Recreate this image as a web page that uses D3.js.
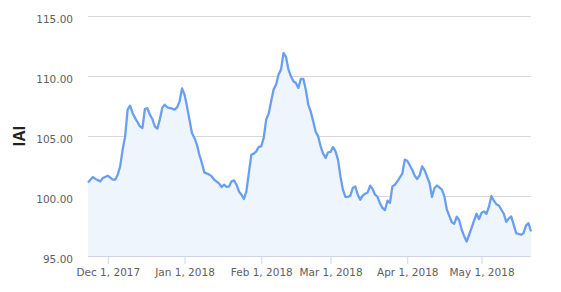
<!DOCTYPE html>
<html>
<head>
<meta charset="utf-8">
<script src="https://cdn.jsdelivr.net/npm/d3@7"></script>
<style>
  body { margin: 0; background: #fff; }
  svg { display: block; font-family: "DejaVu Sans", sans-serif; }
</style>
</head>
<body>
<svg id="chart" width="561" height="292"></svg>
<script>
const dates = [
  "2017-11-23","2017-11-25","2017-11-26","2017-11-28","2017-11-29",
  "2017-12-01","2017-12-03","2017-12-04","2017-12-05","2017-12-06","2017-12-07","2017-12-08","2017-12-09","2017-12-10",
  "2017-12-11","2017-12-12","2017-12-14","2017-12-15","2017-12-16","2017-12-17","2017-12-18","2017-12-19","2017-12-20",
  "2017-12-21","2017-12-22","2017-12-23","2017-12-24","2017-12-25","2017-12-27","2017-12-28","2017-12-29","2017-12-30","2017-12-31",
  "2018-01-01","2018-01-02","2018-01-03","2018-01-04","2018-01-05","2018-01-06","2018-01-07","2018-01-08","2018-01-09",
  "2018-01-11","2018-01-12","2018-01-13","2018-01-15","2018-01-16","2018-01-17","2018-01-18","2018-01-19","2018-01-20",
  "2018-01-21","2018-01-22","2018-01-23","2018-01-24","2018-01-25","2018-01-26","2018-01-27","2018-01-28","2018-01-29",
  "2018-01-30","2018-01-31",
  "2018-02-01","2018-02-02","2018-02-03","2018-02-04","2018-02-05","2018-02-06","2018-02-07","2018-02-08","2018-02-09",
  "2018-02-10","2018-02-11","2018-02-12","2018-02-13","2018-02-14","2018-02-15","2018-02-16","2018-02-17","2018-02-18",
  "2018-02-19","2018-02-20","2018-02-21","2018-02-22","2018-02-23","2018-02-24","2018-02-25","2018-02-26","2018-02-27","2018-02-28",
  "2018-03-01","2018-03-02","2018-03-03","2018-03-04","2018-03-05","2018-03-06","2018-03-07","2018-03-08","2018-03-09",
  "2018-03-10","2018-03-11","2018-03-12","2018-03-13","2018-03-14","2018-03-15","2018-03-16","2018-03-17","2018-03-18",
  "2018-03-19","2018-03-20","2018-03-21","2018-03-22","2018-03-23","2018-03-24","2018-03-25","2018-03-26","2018-03-27",
  "2018-03-28","2018-03-30","2018-03-31",
  "2018-04-01","2018-04-03","2018-04-04","2018-04-05","2018-04-06","2018-04-07","2018-04-08","2018-04-10","2018-04-11",
  "2018-04-12","2018-04-13","2018-04-15","2018-04-16","2018-04-17","2018-04-19","2018-04-20","2018-04-21","2018-04-22",
  "2018-04-23","2018-04-24","2018-04-25","2018-04-26","2018-04-28","2018-04-29","2018-04-30",
  "2018-05-01","2018-05-02","2018-05-03","2018-05-04","2018-05-05","2018-05-06","2018-05-07","2018-05-08","2018-05-10",
  "2018-05-11","2018-05-12","2018-05-13","2018-05-14","2018-05-15","2018-05-17","2018-05-18","2018-05-19","2018-05-20","2018-05-21"
];

const iai = [
  101.13,101.58,101.42,101.22,101.50,
  101.69,101.36,101.36,101.78,102.47,103.86,104.97,107.20,107.53,
  106.92,106.51,105.80,105.67,107.26,107.31,106.78,106.42,105.80,
  105.61,106.36,107.34,107.61,107.39,107.28,107.20,107.39,107.89,108.97,
  108.45,107.47,106.36,105.25,104.84,104.28,103.44,102.75,101.97,
  101.78,101.63,101.36,101.03,100.75,100.94,100.75,100.80,101.22,
  101.30,100.94,100.38,100.11,99.75,100.38,101.92,103.44,103.53,
  103.72,104.09,
  104.14,104.84,106.36,106.86,107.89,108.87,109.28,110.12,110.53,
  111.93,111.59,110.53,109.98,109.56,109.42,109.01,109.76,109.76,
  108.87,107.61,107.03,106.22,105.36,104.97,104.14,103.53,103.17,103.64,
  103.67,104.09,103.72,103.03,101.63,100.53,99.92,99.92,100.03,
  100.67,100.80,100.11,99.69,100.03,100.19,100.30,100.86,100.58,
  100.11,99.92,99.36,99.00,98.83,99.61,99.42,100.80,100.94,
  101.22,101.86,103.03,
  102.94,102.19,101.69,101.42,101.73,102.47,102.15,101.08,99.92,
  100.67,100.88,100.53,99.97,98.86,97.81,97.69,98.27,97.98,
  97.19,96.65,96.21,96.77,97.94,98.52,98.08,
  98.58,98.72,98.51,99.11,100.00,99.61,99.32,99.21,98.52,
  97.84,98.12,98.30,97.61,96.90,96.77,96.91,97.56,97.73,97.05
];

const yTicks = [95, 100, 105, 110, 115];
const xTicks = ["2017-12-01","2018-01-01","2018-02-01","2018-03-01","2018-04-01","2018-05-01"];
const yTitle = "IAI";

const parse = d3.timeParse("%Y-%m-%d");
const data = dates.map((d, i) => ({ date: parse(d), value: iai[i] }));

const svg = d3.select("#chart");
const m = { left: 88, right: 531, top: 16, bottom: 256 };

const x = d3.scaleTime()
  .domain(d3.extent(data, d => d.date))
  .range([m.left, m.right]);

const y = d3.scaleLinear()
  .domain([95, 115])
  .range([m.bottom, m.top]);

// gridlines + y labels
const yAxis = svg.append("g")
  .attr("transform", `translate(${m.left},0)`)
  .call(d3.axisLeft(y).tickValues(yTicks).tickSize(-(m.right - m.left)).tickPadding(15).tickFormat(d3.format(".2f")));
yAxis.select(".domain").remove();
yAxis.selectAll(".tick line").attr("stroke", "#d8d8d8");
yAxis.selectAll(".tick text")
  .attr("fill", "#606060")
  .attr("font-size", "10.5px")
  .attr("font-family", "DejaVu Sans, sans-serif")
  .attr("dy", "0.6em");

// area + line
const area = d3.area()
  .x(d => x(d.date))
  .y0(y(95))
  .y1(d => y(d.value));

const line = d3.line()
  .x(d => x(d.date))
  .y(d => y(d.value));

svg.append("path")
  .datum(data)
  .attr("d", area)
  .attr("fill", "#eef5fd");

svg.append("path")
  .datum(data)
  .attr("d", line)
  .attr("fill", "none")
  .attr("stroke", "#6a9ff0")
  .attr("stroke-width", 2.3)
  .attr("stroke-linejoin", "round");

// x axis
const xAxis = svg.append("g")
  .attr("transform", `translate(0,${m.bottom})`)
  .call(d3.axisBottom(x)
    .tickValues(xTicks.map(parse))
    .tickSize(8)
    .tickPadding(5)
    .tickFormat(d3.timeFormat("%b %-d, %Y")));
xAxis.select(".domain").attr("stroke", "#ccd6eb").attr("d", `M${m.left},0.5H${m.right}`);
xAxis.selectAll(".tick line").attr("stroke", "#ccd6eb");
xAxis.selectAll(".tick text")
  .attr("fill", "#606060")
  .attr("font-size", "10.5px")
  .attr("font-family", "DejaVu Sans, sans-serif");

// y title
svg.append("text")
  .attr("transform", `translate(25,${(m.top + m.bottom) / 2}) rotate(-90)`)
  .attr("text-anchor", "middle")
  .attr("font-family", "Liberation Sans, Arial, sans-serif")
  .attr("font-weight", "bold")
  .attr("font-size", "16px")
  .attr("fill", "#222")
  .text(yTitle);
</script>
</body>
</html>
